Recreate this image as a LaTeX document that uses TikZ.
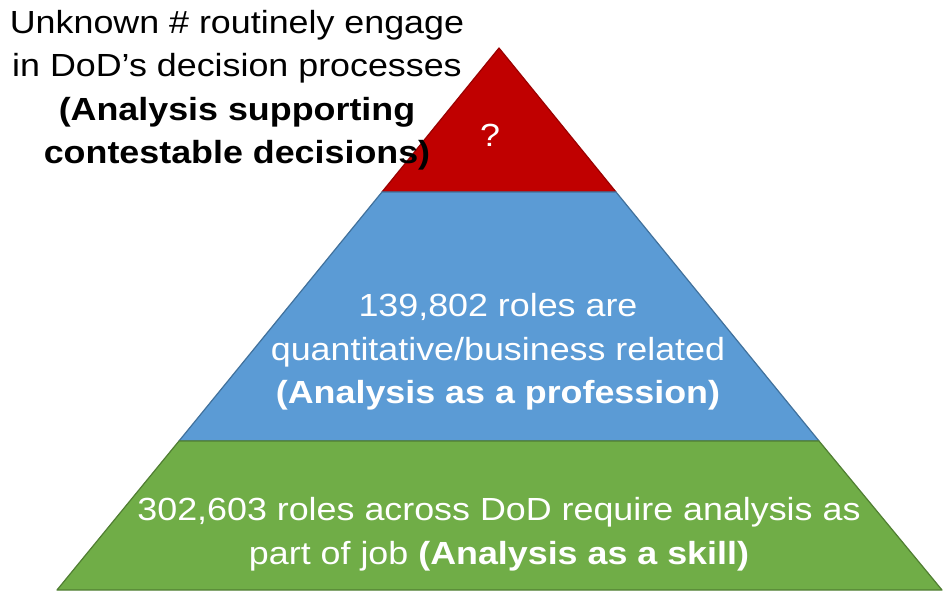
\documentclass[tikz,border=0pt]{standalone}
\usepackage{fontspec}
\setmainfont{Liberation Sans}[FakeStretch=1.12]
\definecolor{tipred}{HTML}{C00000}
\definecolor{midblue}{HTML}{5B9BD5}
\definecolor{midblueline}{HTML}{41719C}
\definecolor{basegreen}{HTML}{70AD47}
\definecolor{basegreenline}{HTML}{507E32}
\begin{document}
\begin{tikzpicture}[x=1pt, y=-1pt]
\tikzstyle{layer} = [line width = 1.2pt, line join = round]
\tikzstyle{inlabel} = [text = white, align = center, inner sep = 0 pt, font = \fontsize{32}{43.5}\selectfont]
\tikzstyle{sidelabel} = [text = black, align = center, inner sep = 0 pt, font = \fontsize{32}{43.5}\selectfont]
\useasboundingbox (0,0) rectangle (948,593);
% the three layers, top down
\filldraw [layer, fill = tipred, draw = tipred!80!black] (499,48) -- (382,192) -- (616,192) -- cycle;
\filldraw [layer, fill = midblue, draw = midblueline] (382,192) -- (616,192) -- (819,441) -- (179,441) -- cycle;
\filldraw [layer, fill = basegreen, draw = basegreenline] (179,441) -- (819,441) -- (942,590) -- (57,590) -- cycle;
% labels
\node [inlabel] (tiplabel) at (490,135) {?};
\node [inlabel] (midlabel) at (498,352) {139,802 roles are\\quantitative/business related\\\textbf{(Analysis as a profession)}};
\node [inlabel] (baselabel) at (499,534) {302,603 roles across DoD require analysis as\\part of job \textbf{(Analysis as a skill)}};
\node [sidelabel] (toplabel) at (237,90) {Unknown \# routinely engage\\in DoD’s decision processes\\\textbf{(Analysis supporting}\\\textbf{contestable decisions)}};
\end{tikzpicture}
\end{document}
